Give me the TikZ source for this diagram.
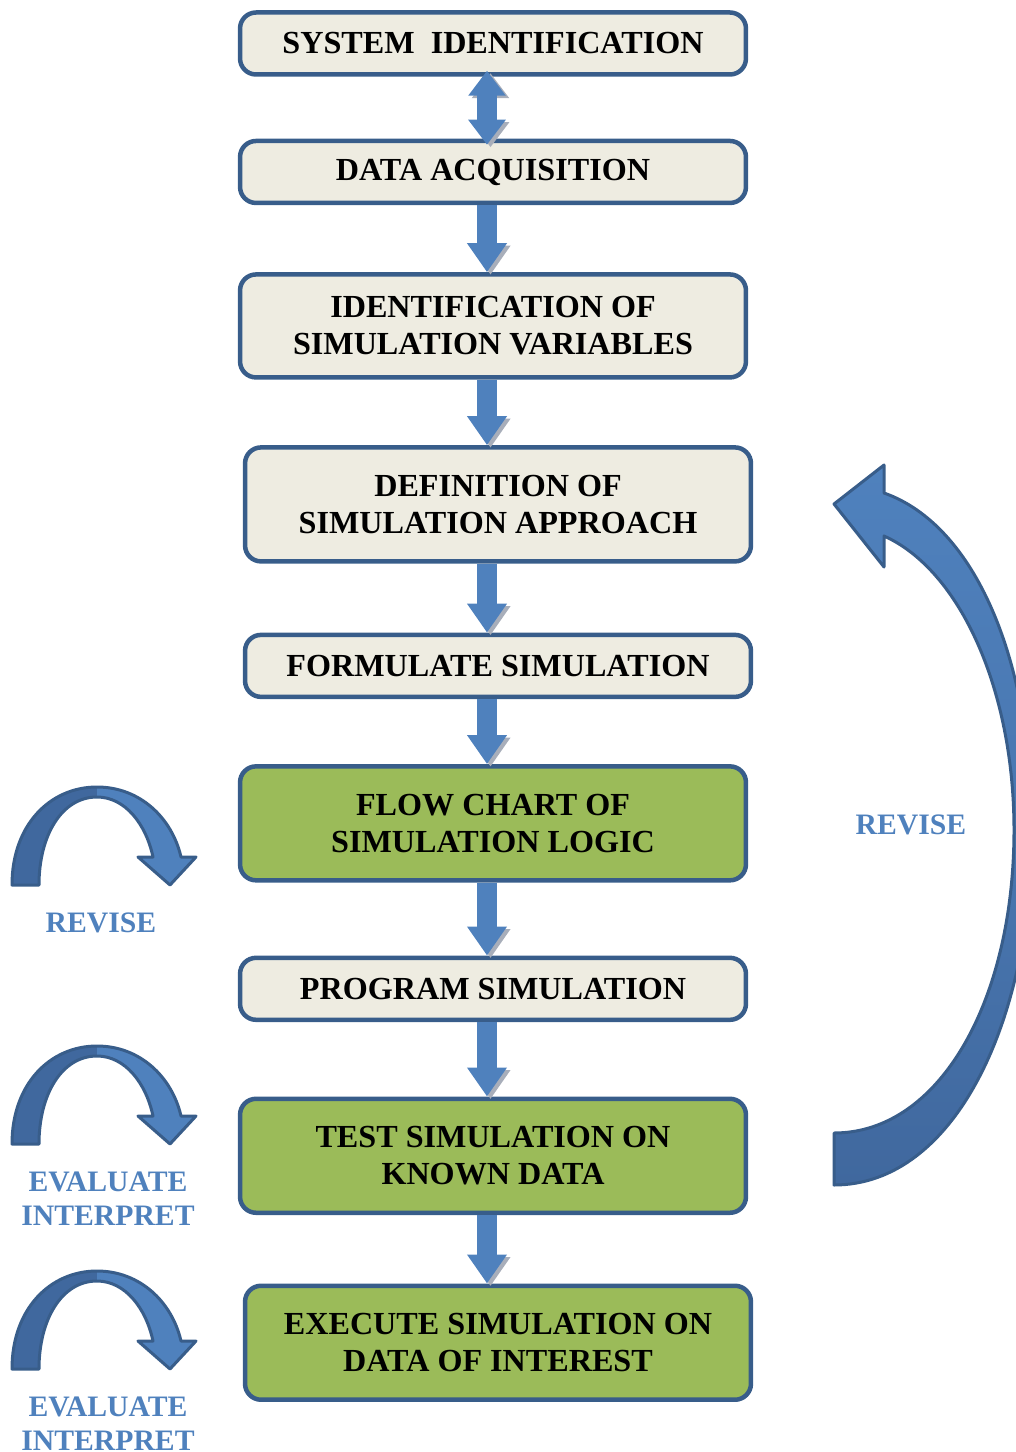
\documentclass[tikz,border=0pt]{standalone}
\usepackage{fontspec}
\setmainfont{Liberation Serif}
\usetikzlibrary{arrows.meta,positioning}
\definecolor{boxline}{RGB}{56,93,138}
\definecolor{boxfill}{RGB}{238,236,225}
\definecolor{greenfill}{RGB}{155,187,89}
\definecolor{arrowblue}{RGB}{79,129,189}
\definecolor{arrowdark}{RGB}{64,104,158}
\definecolor{shadowgray}{RGB}{168,174,186}

\begin{document}
\begin{tikzpicture}[
    x=0.02cm, y=-0.02cm,
    node distance=3.2cm,
    font=\fontsize{18.3}{21}\selectfont\bfseries,
    stage/.style={
		rectangle,
		rounded corners=0.32cm,
		draw=boxline,
		line width=0.09cm,
		fill=boxfill,
		align=center,
		inner sep=0pt,
		minimum width=10.12cm,
		minimum height=1.24cm
	},
	tall/.style={
		minimum height=2.28cm
	},
	keystage/.style={
		stage,
		tall,
		fill=greenfill
	},
	flow/.style={
		arrowblue,
		line width=0.4cm,
		-{Triangle[width=0.76cm,length=0.58cm]},
		preaction={draw=shadowgray, transform canvas={shift={(0.07cm,-0.05cm)}}}
	},
	twoway/.style={
		flow,
		{Triangle[width=0.72cm,length=0.5cm]}-{Triangle[width=0.72cm,length=0.5cm]}
	},
	note/.style={
		text=arrowblue,
		align=center,
		font=\fontsize{16.9}{19.4}\selectfont\bfseries
	},
	curl/.pic={
		\fill[arrowdark] (12,98) .. controls (12,38) and (50,0) .. (97,0) -- (97,10)
		  .. controls (62,10) and (39,48) .. (39,98) -- cycle;
		\fill[arrowblue] (97,0) .. controls (140,0) and (172,31) .. (181,70) -- (196,70)
		  -- (170,98) -- (138,70) -- (153,70) .. controls (146,37) and (125,10) .. (97,10) -- cycle;
		\draw[boxline, line width=0.06cm, line join=round]
		  (12,98) .. controls (12,38) and (50,0) .. (97,0)
		  .. controls (140,0) and (172,31) .. (181,70) -- (196,70) -- (170,98) -- (138,70)
		  -- (153,70) .. controls (146,37) and (125,10) .. (97,10)
		  .. controls (62,10) and (39,48) .. (39,98) -- cycle;
	}
  ]

\useasboundingbox (0,0) rectangle (1016,1452);

% // the stages
\node [stage] (sysid) at (493,43.5) {SYSTEM~ IDENTIFICATION};
\node [stage, below of=sysid, yshift=0.63cm] (dataacq) {DATA ACQUISITION};
\node [stage, tall, minimum height=2.06cm, below of=dataacq, yshift=0.12cm] (identvar)
 {IDENTIFICATION OF\\SIMULATION VARIABLES};
\node [stage, tall, below of=identvar, xshift=0.1cm, yshift=-0.37cm] (defapp)
 {DEFINITION OF\\SIMULATION APPROACH};
\node [stage, below of=defapp, yshift=-0.03cm] (formsim) {FORMULATE SIMULATION};
\node [keystage, below of=formsim, xshift=-0.1cm, yshift=0.05cm] (flowchart)
 {FLOW CHART OF\\SIMULATION LOGIC};
\node [stage, below of=flowchart, yshift=-0.11cm] (progsim) {PROGRAM SIMULATION};
\node [keystage, below of=progsim, yshift=-0.14cm] (testsim)
 {TEST SIMULATION ON\\KNOWN DATA};
\node [keystage, below of=testsim, xshift=0.1cm, yshift=-0.54cm] (execsim)
 {EXECUTE SIMULATION ON\\DATA OF INTEREST};

% // the arrows between stages
\coordinate (axis) at (487,0);
\draw [twoway] ([yshift=0.12cm]sysid.south -| axis) -- ([yshift=-0.12cm]dataacq.north -| axis);
\draw [flow] (dataacq.south -| axis) -- (identvar.north -| axis);
\draw [flow] (identvar.south -| axis) -- (defapp.north -| axis);
\draw [flow] (defapp.south -| axis) -- (formsim.north -| axis);
\draw [flow] (formsim.south -| axis) -- (flowchart.north -| axis);
\draw [flow] (flowchart.south -| axis) -- (progsim.north -| axis);
\draw [flow] (progsim.south -| axis) -- (testsim.north -| axis);
\draw [flow] (testsim.south -| axis) -- (execsim.north -| axis);

% // the loops on the left
\pic at (0,787) {curl};
\pic at (0,1046) {curl};
\pic at (0,1271) {curl};
\node [note] (revise1) at (101,923) {REVISE};
\node [note] (evaluate1) at (108,1199) {EVALUATE\\INTERPRET};
\node [note] (evaluate2) at (108,1424) {EVALUATE\\INTERPRET};

% // the big loop on the right
\draw [boxline, line width=0.06cm, line join=round, top color=arrowblue, bottom color=arrowdark,
       middle color=arrowblue!60!arrowdark]
  (834,504) -- (884,465) -- (884,493)
  .. controls (975,525) and (1032,660) .. (1032,830)
  .. controls (1032,1020) and (955,1185) .. (834,1185) -- (834,1133)
  .. controls (940,1133) and (1014,1000) .. (1014,830)
  .. controls (1014,690) and (960,570) .. (884,536) -- (884,567) -- cycle;
\node [note] (revise2) at (911,825) {REVISE};

\end{tikzpicture}
\end{document}
